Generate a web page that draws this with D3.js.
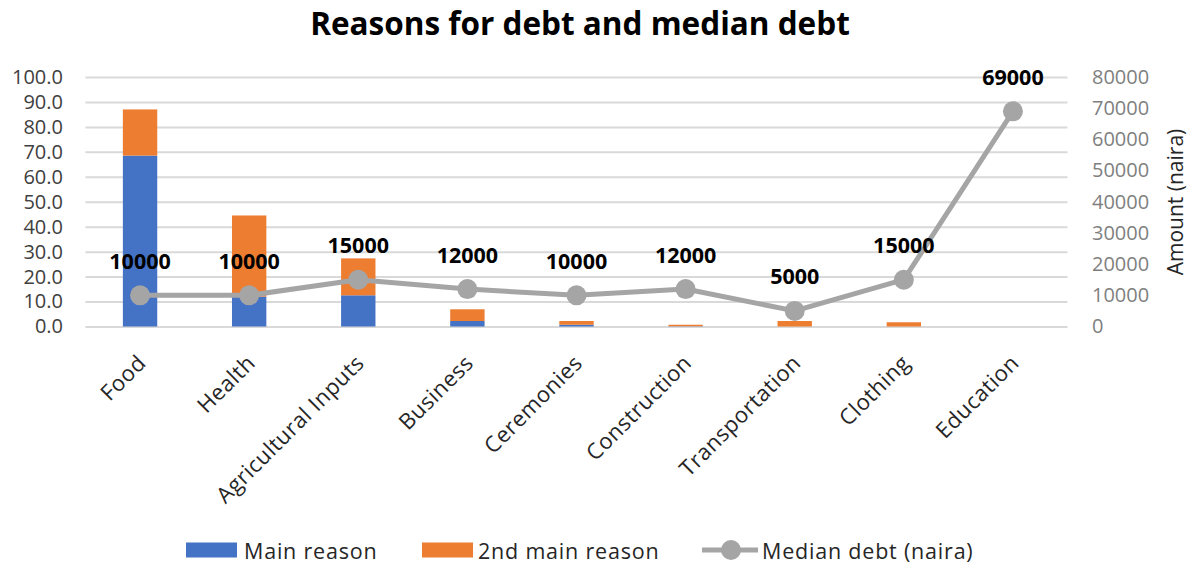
<!DOCTYPE html>
<html>
<head>
<meta charset="utf-8">
<script src="https://cdn.jsdelivr.net/npm/d3@7"></script>
<style>
  html, body { margin: 0; padding: 0; background: #fff; }
  svg { display: block; font-family: "Open Sans", "Noto Sans", sans-serif; }
</style>
</head>
<body>
<svg id="chart" width="1191" height="565"></svg>
<script>
// Reasons for borrowing (percent of households) and median debt per reason
const categories = ["Food", "Health", "Agricultural Inputs", "Business", "Ceremonies",
                    "Construction", "Transportation", "Clothing", "Education"];
const mainReason = [68.5, 12.0, 12.5, 2.2, 0.7, 0.1, 0.0, 0.0, 0.0];
const secondReason = [18.5, 32.5, 14.8, 4.7, 1.5, 0.6, 2.2, 1.7, 0.0];
const medianDebt = [10000, 10000, 15000, 12000, 10000, 12000, 5000, 15000, 69000];
const leftTicks = [0, 10, 20, 30, 40, 50, 60, 70, 80, 90, 100];
const rightTicks = [0, 10000, 20000, 30000, 40000, 50000, 60000, 70000, 80000];
const seriesNames = ["Main reason", "2nd main reason", "Median debt (naira)"];

const colors = { main: "#4472C4", second: "#ED7D31", line: "#A5A5A5", grid: "#D9D9D9" };

const svg = d3.select("#chart");
const plot = { left: 85.5, right: 1067.5, top: 77, bottom: 326.5 };

const x = d3.scaleBand()
  .domain(categories)
  .range([plot.left, plot.right])
  .paddingInner(0.685)
  .paddingOuter(0.3425);
const yL = d3.scaleLinear().domain([0, 100]).range([plot.bottom, plot.top]);
const yR = d3.scaleLinear().domain([0, 80000]).range([plot.bottom, plot.top]);
const cx = c => x(c) + x.bandwidth() / 2;

// Title
svg.append("text")
  .attr("x", 580)
  .attr("y", 35)
  .attr("text-anchor", "middle")
  .attr("font-size", 31.5)
  .attr("font-weight", 700)
  .attr("fill", "#000")
  .text("Reasons for debt and median debt");

// Horizontal gridlines
svg.append("g")
  .attr("transform", `translate(${plot.left},0)`)
  .call(d3.axisLeft(yL).tickValues(leftTicks).tickSize(-(plot.right - plot.left)).tickFormat(""))
  .call(g => g.select(".domain").remove())
  .call(g => g.selectAll("line").attr("stroke", colors.grid).attr("stroke-width", 2));

// Left axis labels
svg.append("g")
  .attr("transform", `translate(63,0)`)
  .call(d3.axisLeft(yL).tickValues(leftTicks).tickSize(0).tickPadding(0).tickFormat(d3.format(".1f")))
  .call(g => g.select(".domain").remove())
  .call(g => g.selectAll("text")
    .attr("font-family", "'Open Sans', sans-serif")
    .attr("font-size", 20)
    .attr("fill", "#404040"));

// Right axis labels
svg.append("g")
  .attr("transform", `translate(1092,0)`)
  .call(d3.axisRight(yR).tickValues(rightTicks).tickSize(0).tickPadding(0).tickFormat(d3.format("d")))
  .call(g => g.select(".domain").remove())
  .call(g => g.selectAll("text")
    .attr("font-family", "'Open Sans', sans-serif")
    .attr("font-size", 20)
    .attr("fill", "#7F7F7F"));

// Right axis title
svg.append("text")
  .attr("transform", "translate(1175,202) rotate(-90)")
  .attr("text-anchor", "middle")
  .attr("dominant-baseline", "central")
  .attr("font-size", 21)
  .attr("fill", "#262626")
  .text("Amount (naira)");

// Stacked bars
const stackData = categories.map((c, i) => ({ cat: c, main: mainReason[i], second: secondReason[i] }));
const stacked = d3.stack().keys(["main", "second"])(stackData);
const barColors = [colors.main, colors.second];
svg.append("g").selectAll("g")
  .data(stacked)
  .join("g")
  .attr("fill", (d, i) => barColors[i])
  .selectAll("rect")
  .data(d => d)
  .join("rect")
  .attr("x", d => x(d.data.cat))
  .attr("width", x.bandwidth())
  .attr("y", d => yL(d[1]))
  .attr("height", d => yL(d[0]) - yL(d[1]));

// Category labels
svg.append("g").selectAll("text")
  .data(categories)
  .join("text")
  .attr("transform", d => `translate(${cx(d) + 1},358) rotate(-45)`)
  .attr("text-anchor", "end")
  .attr("dominant-baseline", "central")
  .attr("font-size", 22)
  .attr("letter-spacing", 0.5)
  .attr("fill", "#262626")
  .text(d => d);

// Median debt line
const lineData = categories.map((c, i) => ({ cat: c, v: medianDebt[i] }));
svg.append("path")
  .datum(lineData)
  .attr("fill", "none")
  .attr("stroke", colors.line)
  .attr("stroke-width", 5)
  .attr("stroke-linejoin", "round")
  .attr("d", d3.line().x(d => cx(d.cat)).y(d => yR(d.v)));

svg.append("g").selectAll("circle")
  .data(lineData)
  .join("circle")
  .attr("cx", d => cx(d.cat))
  .attr("cy", d => yR(d.v))
  .attr("r", 10)
  .attr("fill", colors.line);

// Data labels for the line
svg.append("g").selectAll("text")
  .data(lineData)
  .join("text")
  .attr("x", d => cx(d.cat))
  .attr("y", d => yR(d.v) - 35)
  .attr("text-anchor", "middle")
  .attr("dominant-baseline", "central")
  .attr("font-size", 21.5)
  .attr("font-weight", 700)
  .attr("fill", "#000")
  .text(d => d.v);

// Legend
const legend = svg.append("g").attr("font-size", 21.5).attr("fill", "#262626");
const ly = 550;
legend.append("rect").attr("x", 186).attr("y", ly - 7.5).attr("width", 51).attr("height", 15).attr("fill", colors.main);
legend.append("text").attr("x", 244).attr("y", ly).attr("dominant-baseline", "central")
  .attr("letter-spacing", 0.8).text(seriesNames[0]);
legend.append("rect").attr("x", 422).attr("y", ly - 7.5).attr("width", 51).attr("height", 15).attr("fill", colors.second);
legend.append("text").attr("x", 478).attr("y", ly).attr("dominant-baseline", "central")
  .attr("letter-spacing", 0.8).text(seriesNames[1]);
legend.append("line").attr("x1", 702).attr("x2", 758).attr("y1", ly).attr("y2", ly)
  .attr("stroke", colors.line).attr("stroke-width", 5);
legend.append("circle").attr("cx", 731).attr("cy", ly).attr("r", 10).attr("fill", colors.line);
legend.append("text").attr("x", 762).attr("y", ly).attr("dominant-baseline", "central")
  .attr("letter-spacing", 0.8).text(seriesNames[2]);
</script>
</body>
</html>
